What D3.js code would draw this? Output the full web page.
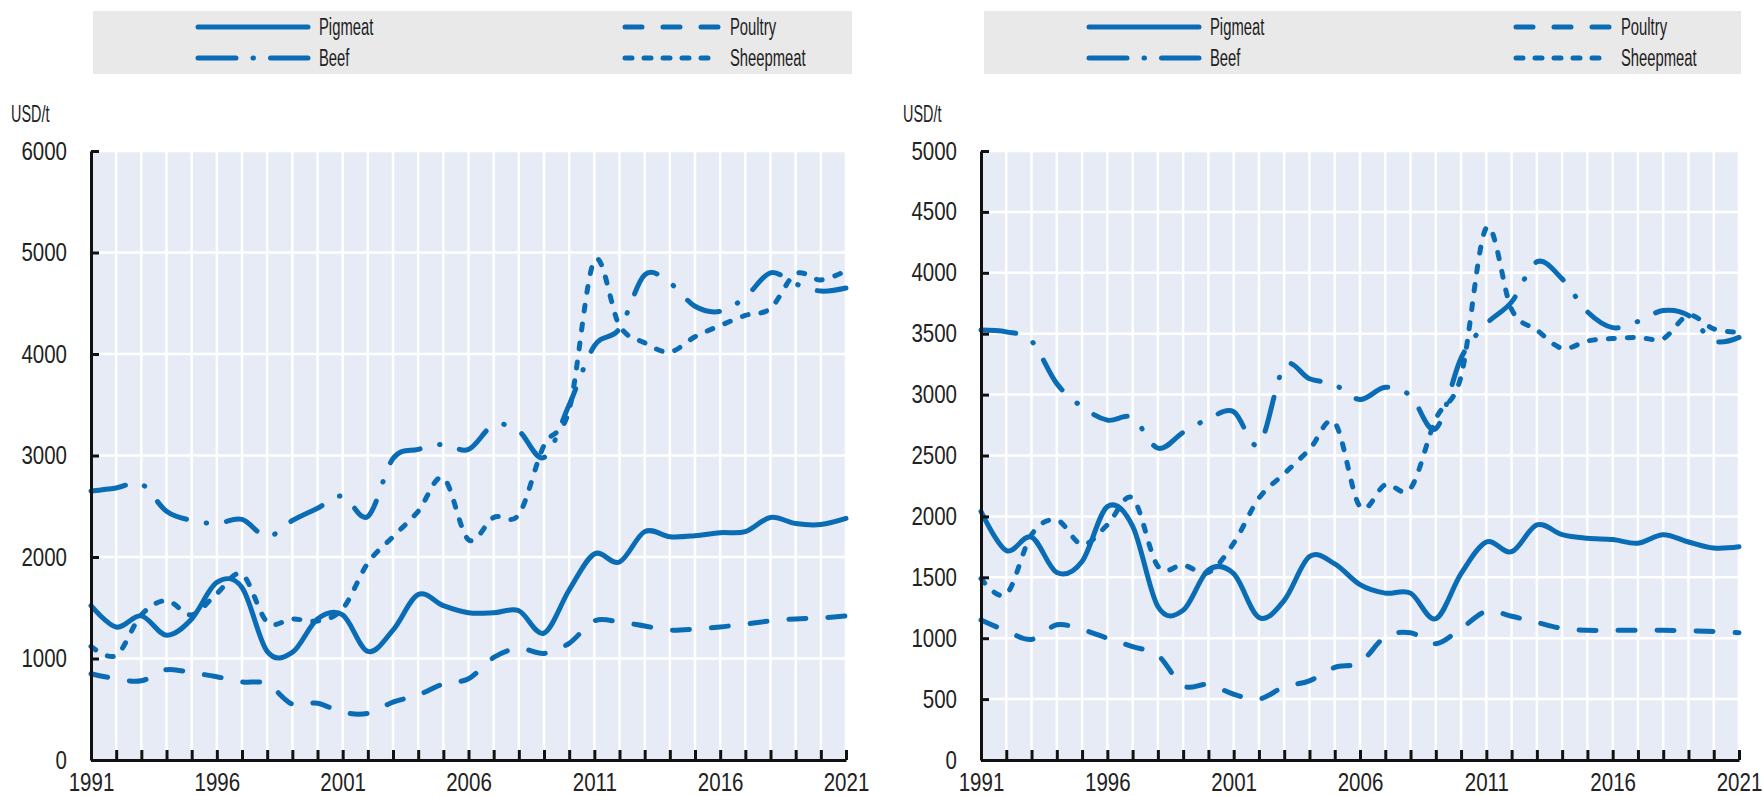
<!DOCTYPE html>
<html>
<head>
<meta charset="UTF-8">
<script src="https://d3js.org/d3.v7.min.js"></script>
<style>
  body { margin: 0; background: #ffffff; }
  svg text { font-family: "Liberation Sans", Arial, sans-serif; fill: #222; }
</style>
</head>
<body>
<svg id="chart" width="1763" height="796"></svg>
<script>
// years on the x axis
const years = [1991,1992,1993,1994,1995,1996,1997,1998,1999,2000,2001,2002,2003,2004,2005,2006,
               2007,2008,2009,2010,2011,2012,2013,2014,2015,2016,2017,2018,2019,2020,2021];
const yearLabels = [1991, 1996, 2001, 2006, 2011, 2016, 2021];

// left panel (USD/t)
const pigLeft     = [1520,1310,1420,1230,1390,1750,1700,1070,1060,1390,1430,1070,1280,1630,1520,1450,
                     1450,1470,1250,1675,2030,1950,2250,2200,2210,2240,2250,2390,2330,2320,2380];
const poultryLeft = [850,800,780,890,860,820,770,750,550,560,470,460,570,640,750,800,
                     1010,1100,1050,1150,1370,1360,1320,1280,1290,1310,1340,1370,1390,1400,1420];
const beefLeft    = [2650,2680,2720,2450,2360,2330,2370,2200,2360,2480,2600,2400,2970,3060,3110,3060,
                     3300,3240,2980,3500,4080,4250,4780,4700,4470,4420,4560,4800,4690,4620,4650];
const sheepLeft   = [1120,1030,1430,1570,1430,1640,1830,1360,1390,1370,1490,1940,2200,2450,2780,2170,
                     2390,2420,3100,3450,4920,4280,4110,4020,4170,4280,4380,4450,4790,4730,4820];

// right panel (USD/t)
const pigRight     = [2040,1720,1830,1540,1630,2080,1920,1260,1230,1560,1530,1170,1310,1670,1610,1440,
                      1370,1370,1160,1530,1790,1710,1930,1850,1820,1810,1780,1850,1790,1740,1750];
const poultryRight = [1150,1060,990,1110,1070,1000,930,860,610,620,540,500,600,650,760,800,
                      1010,1045,955,1080,1220,1180,1130,1080,1065,1065,1065,1065,1060,1055,1045];
const beefRight    = [3530,3515,3440,3090,2900,2790,2810,2560,2690,2800,2860,2590,3230,3130,3080,2960,
                      3060,2990,2720,3300,3580,3760,4090,3950,3680,3550,3600,3690,3650,3440,3470];
const sheepRight   = [1490,1360,1850,1970,1770,1930,2150,1590,1600,1540,1780,2150,2350,2550,2770,2080,
                      2260,2230,2800,3150,4370,3700,3530,3380,3440,3460,3470,3460,3650,3540,3510];

const yTicksLeft = [0,1000,2000,3000,4000,5000,6000];
const yTicksRight = [0,500,1000,1500,2000,2500,3000,3500,4000,4500,5000];

const seriesNames = ["Pigmeat", "Poultry", "Beef", "Sheepmeat"];

const blue = "#0a6cb5";
const dashes = {
  Pigmeat: null,
  Poultry: "17,22",
  Beef: "35,20,0.5,20",
  Sheepmeat: "6,13"
};
const legendDashes = {
  Pigmeat: null,
  Poultry: "17,21",
  Beef: "38,17,0.5,17",
  Sheepmeat: "7,12"
};

// narrow type, like the condensed face of the original
const NARROW = 0.82;    // digits
const NARROW_TXT = 0.63; // words

const svg = d3.select("#chart");

const panels = [
  { x0: 91, x1: 846, ticks: yTicksLeft,
    series: { Pigmeat: pigLeft, Poultry: poultryLeft, Beef: beefLeft, Sheepmeat: sheepLeft },
    legendX: 93, legendW: 759, unitX: 11 },
  { x0: 981, x1: 1739, ticks: yTicksRight,
    series: { Pigmeat: pigRight, Poultry: poultryRight, Beef: beefRight, Sheepmeat: sheepRight },
    legendX: 984, legendW: 757, unitX: 903 }
];

const yTop = 151, yBot = 760;

panels.forEach(p => {
  const g = svg.append("g");

  const x = d3.scaleLinear().domain([1991, 2021]).range([p.x0, p.x1]);
  const y = d3.scaleLinear().domain([0, d3.max(p.ticks)]).range([yBot, yTop]);

  // plot background
  g.append("rect")
    .attr("x", p.x0).attr("y", yTop)
    .attr("width", p.x1 - p.x0).attr("height", yBot - yTop)
    .attr("fill", "#e6ebf5");

  // white grid
  g.selectAll(".hgrid").data(p.ticks.filter(t => t > 0)).join("line")
    .attr("x1", p.x0).attr("x2", p.x1)
    .attr("y1", d => y(d)).attr("y2", d => y(d))
    .attr("stroke", "#fff").attr("stroke-width", 2.5);
  g.selectAll(".vgrid").data(years.slice(1)).join("line")
    .attr("x1", d => x(d)).attr("x2", d => x(d))
    .attr("y1", yTop).attr("y2", yBot)
    .attr("stroke", "#fff").attr("stroke-width", 2.5);

  // lines
  const line = d3.line()
    .x((d, i) => x(years[i]))
    .y(d => y(d))
    .curve(d3.curveCardinal.tension(0));

  seriesNames.forEach(name => {
    g.append("path")
      .datum(p.series[name])
      .attr("d", line)
      .attr("fill", "none")
      .attr("stroke", blue)
      .attr("stroke-width", 5)
      .attr("stroke-linecap", "round")
      .attr("stroke-linejoin", "round")
      .attr("stroke-dasharray", dashes[name]);
  });

  // y axis
  const yAxis = d3.axisLeft(y).tickValues(p.ticks)
    .tickSizeInner(-8).tickSizeOuter(0).tickPadding(24)
    .tickFormat(d3.format("d"));
  const ya = g.append("g").attr("transform", `translate(${p.x0},0)`).call(yAxis);
  ya.select(".domain").attr("stroke", "#111").attr("stroke-width", 3);
  ya.selectAll(".tick line").attr("stroke", "#111").attr("stroke-width", 3);
  ya.selectAll(".tick text")
    .attr("font-size", 25).attr("fill", "#222")
    .attr("x", -24 / NARROW)
    .attr("transform", `scale(${NARROW},1)`);

  // x axis
  const xAxis = d3.axisBottom(x).tickValues(years)
    .tickSizeInner(-10).tickSizeOuter(0).tickPadding(13)
    .tickFormat(d => yearLabels.includes(d) ? d : "");
  const xa = g.append("g").attr("transform", `translate(0,${yBot})`).call(xAxis);
  xa.select(".domain").attr("stroke", "#111").attr("stroke-width", 3);
  xa.selectAll(".tick line").attr("stroke", "#111").attr("stroke-width", 3);
  xa.selectAll(".tick text")
    .attr("font-size", 25).attr("fill", "#222")
    .attr("transform", `scale(${NARROW},1)`);

  // unit label
  g.append("text")
    .attr("transform", `translate(${p.unitX},122) scale(0.6,1)`)
    .attr("font-size", 24)
    .text("USD/t");

  // legend
  const lg = g.append("g").attr("transform", `translate(${p.legendX},11)`);
  lg.append("rect").attr("width", p.legendW).attr("height", 63).attr("fill", "#e9e9e9");
  const cols = [{ l: 105, r: 215, t: 226 }, { l: 532, r: 626, t: 637 }];
  const rows = [16, 47];
  const pos = { Pigmeat: [0, 0], Poultry: [1, 0], Beef: [0, 1], Sheepmeat: [1, 1] };
  seriesNames.forEach(name => {
    const c = cols[pos[name][0]], cy = rows[pos[name][1]];
    lg.append("line")
      .attr("x1", c.l).attr("x2", c.r)
      .attr("y1", cy).attr("y2", cy)
      .attr("stroke", blue).attr("stroke-width", 5)
      .attr("stroke-linecap", "round")
      .attr("stroke-dasharray", legendDashes[name]);
    lg.append("text")
      .attr("transform", `translate(${c.t},${cy + 8}) scale(${NARROW_TXT},1)`)
      .attr("font-size", 23.5)
      .text(name);
  });
});
</script>
</body>
</html>
